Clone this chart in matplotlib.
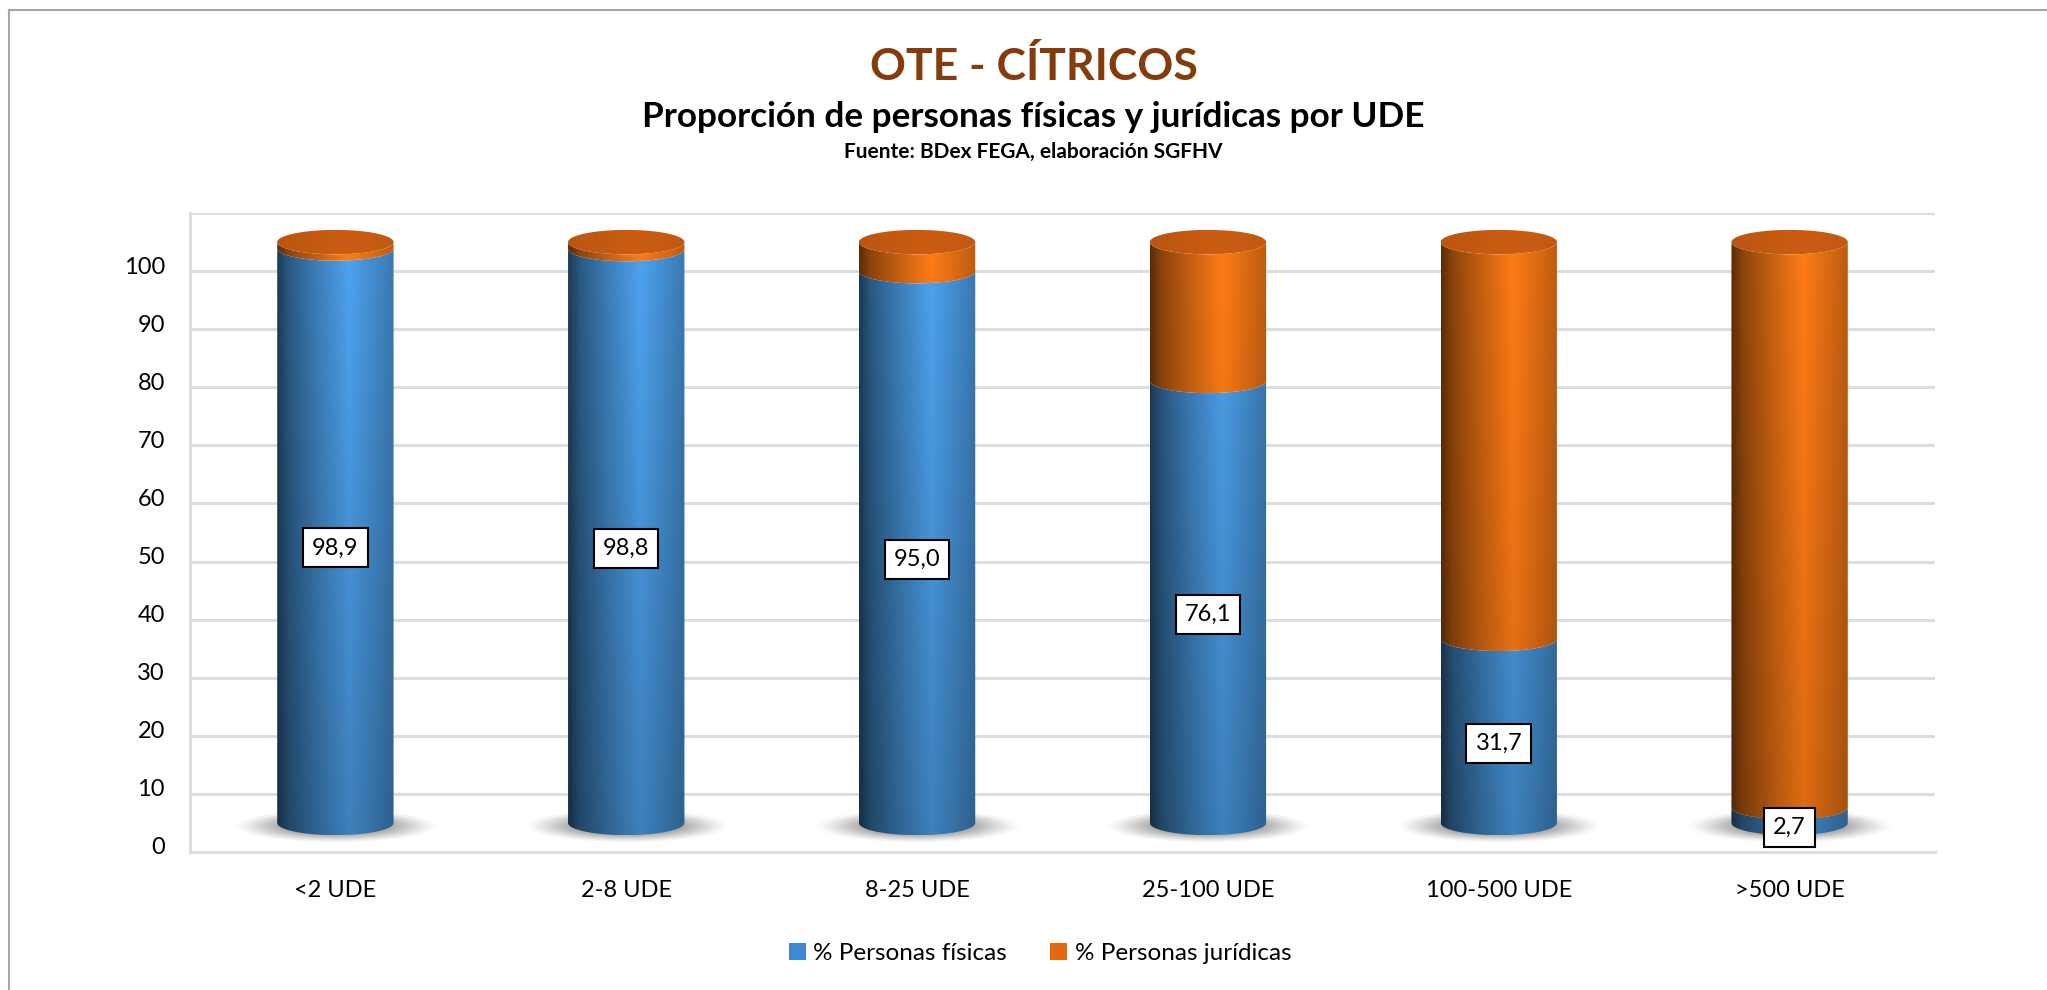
import matplotlib.pyplot as plt
import numpy as np
from matplotlib.path import Path
from matplotlib.patches import Patch
from matplotlib.lines import Line2D
from matplotlib.transforms import ScaledTranslation

plt.rcParams['font.family'] = ['Lato', 'DejaVu Sans']

categories = ['<2 UDE', '2-8 UDE', '8-25 UDE', '25-100 UDE', '100-500 UDE', '>500 UDE']
fisicas = [98.9, 98.8, 95.0, 76.1, 31.7, 2.7]
juridicas = [1.1, 1.2, 5.0, 23.9, 68.3, 97.3]
series_names = ['% Personas físicas', '% Personas jurídicas']

FLOOR = 5.0      # depth offset of the 3D floor, in y units
E = 2.1          # half height of the cylinder ellipses
W = 0.40         # cylinder width
GRID = '#DCDCE2'

blue_hi = np.array([0x4E, 0xA4, 0xF0]) / 255
orange_hi = np.array([0xFF, 0x7C, 0x16]) / 255
cap_col = np.array([0xCA, 0x5D, 0x12]) / 255


def profile(u):
    return np.interp(u, [0, 0.1, 0.35, 0.62, 0.86, 1.0],
                     [0.36, 0.55, 0.78, 1.0, 0.84, 0.74])


def lower_half(xc, w, y, rev=False):
    t = np.linspace(np.pi, 2 * np.pi, 80)
    if rev:
        t = t[::-1]
    return np.column_stack([xc + w / 2 * np.cos(t), y + E * np.sin(t)])


def draw_cylinder(ax, rect, hi, vk, z):
    x0, w = rect.get_x(), rect.get_width()
    y0, y1 = rect.get_y(), rect.get_y() + rect.get_height()
    xc = x0 + w / 2
    verts = np.vstack([[x0, y1], lower_half(xc, w, y0), [x0 + w, y1],
                       lower_half(xc, w, y1, rev=True), [x0, y1]])
    path = Path(verts, closed=True)
    u = np.linspace(0, 1, 160)
    yy = np.linspace(y0 - E, y1, 300)
    v = (1 - vk) + vk * np.clip(yy / 105, 0, 1)
    img = np.clip(v[:, None, None] * profile(u)[None, :, None] * hi[None, None, :], 0, 1)
    im = ax.imshow(img, extent=[x0, x0 + w, y0 - E, y1], origin='lower',
                   aspect='auto', zorder=z, interpolation='bilinear')
    im.set_clip_path(path, transform=ax.transData)


def draw_cap(ax, xc, w, y, z):
    t = np.linspace(0, 2 * np.pi, 160)
    path = Path(np.column_stack([xc + w / 2 * np.cos(t), y + E * np.sin(t)]), closed=True)
    u = np.linspace(0, 1, 160)
    img = (0.86 + 0.14 * profile(u))[None, :, None] * cap_col[None, None, :]
    img = np.repeat(img, 2, axis=0)
    im = ax.imshow(np.clip(img, 0, 1), extent=[xc - w / 2, xc + w / 2, y - E, y + E],
                   origin='lower', aspect='auto', zorder=z, interpolation='bilinear')
    im.set_clip_path(path, transform=ax.transData)


def draw_shadow(ax, xc, z):
    a, b = 0.38, 3.2
    xs = np.linspace(-a, a, 200)
    ys = np.linspace(-b, b, 100)
    X, Y = np.meshgrid(xs, ys)
    r2 = (X / 0.36) ** 2 + (Y / 2.9) ** 2
    alpha = 0.85 * np.clip(1 - r2, 0, 1) ** 1.6
    img = np.zeros((100, 200, 4))
    img[..., :3] = 0.36
    img[..., 3] = alpha
    ax.imshow(img, extent=[xc - a, xc + a, FLOOR - 0.6 - b, FLOOR - 0.6 + b],
              origin='lower', aspect='auto', zorder=z, interpolation='bilinear')


fig = plt.figure(figsize=(20.47, 9.9), dpi=100)
ax = fig.add_axes([0.0928, 0.1394, 0.8525, 0.6454])

x = np.arange(len(categories))
bars_f = ax.bar(x, fisicas, width=W, bottom=FLOOR, fill=False, linewidth=0)
bars_j = ax.bar(x, juridicas, width=W, bottom=FLOOR + np.array(fisicas), fill=False, linewidth=0)

for i in range(len(categories)):
    draw_shadow(ax, x[i], 1)
    draw_cylinder(ax, bars_f[i], blue_hi, 0.22, 3)
    draw_cylinder(ax, bars_j[i], orange_hi, 0.14, 4)
    rj = bars_j[i]
    draw_cap(ax, x[i], W, rj.get_y() + rj.get_height(), 5)
    lab = f'{fisicas[i]:.1f}'.replace('.', ',')
    ax.text(x[i], FLOOR + fisicas[i] / 2 - E, lab, ha='center', va='center',
            fontsize=17, zorder=6,
            bbox=dict(boxstyle='square,pad=0.38', fc='white', ec='black', lw=1.5))

ax.set_xlim(-0.5, len(categories) - 0.5)
ax.set_ylim(0, 110)
ax.set_yticks(np.arange(0, 101, 10))
ax.set_xticks(x)
ax.set_xticklabels(categories)
ax.tick_params(axis='both', length=0, labelsize=17)
ax.tick_params(axis='y', pad=18)
ax.tick_params(axis='x', pad=20)
for lbl in ax.get_yticklabels():
    lbl.set_transform(lbl.get_transform() + ScaledTranslation(0, 0.06, fig.dpi_scale_trans))

ax.set_axisbelow(True)
ax.yaxis.grid(True, color=GRID, linewidth=2.2)
ax.axhline(110, color=GRID, linewidth=2.2, zorder=0)
for s in ['top', 'right']:
    ax.spines[s].set_visible(False)
for s in ['left', 'bottom']:
    ax.spines[s].set_color(GRID)
    ax.spines[s].set_linewidth(2.2)

fig.text(0.505, 0.919, 'OTE - CÍTRICOS', ha='center', va='baseline',
         fontsize=32, fontweight='bold', color='#843C0C')
fig.text(0.505, 0.872, 'Proporción de personas físicas y jurídicas por UDE',
         ha='center', va='baseline', fontsize=25.3, fontweight='bold', color='black')
fig.text(0.505, 0.840, 'Fuente: BDex FEGA, elaboración SGFHV',
         ha='center', va='baseline', fontsize=15, fontweight='bold', color='black')

handles = [Patch(facecolor='#3F88D2', edgecolor='none'),
           Patch(facecolor='#E46812', edgecolor='none')]
fig.legend(handles, series_names, loc='center', bbox_to_anchor=(0.508, 0.037),
           ncol=2, frameon=False, fontsize=17.5, handlelength=0.7, handleheight=0.7,
           handletextpad=0.3, columnspacing=1.8)

# chart area border (left and top edges visible)
fig.add_artist(Line2D([0.0044, 0.0044], [0, 0.99], transform=fig.transFigure,
                      color='#A6A6A6', linewidth=1.5))
fig.add_artist(Line2D([0.0044, 1], [0.99, 0.99], transform=fig.transFigure,
                      color='#A6A6A6', linewidth=1.5))

plt.savefig('out.png', dpi=100)
